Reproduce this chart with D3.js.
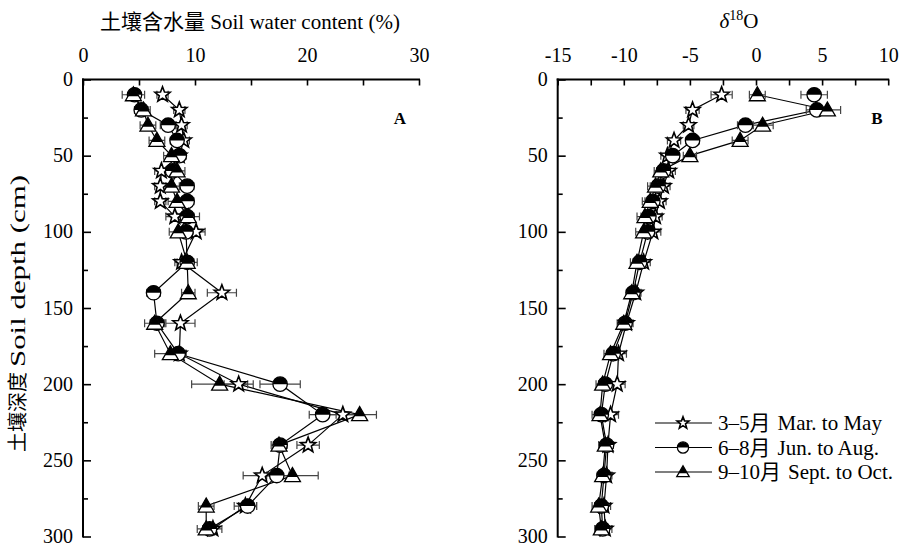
<!DOCTYPE html>
<html><head><meta charset="utf-8">
<script src="https://cdn.jsdelivr.net/npm/d3@7/dist/d3.min.js"></script>
<style>
body{margin:0;background:#fff;}
text{font-family:"Liberation Serif","Times New Roman","Noto Sans CJK SC",serif;fill:#000;}
</style></head>
<body><svg id="c" width="903" height="545"></svg>
<script>
// ---------- data ----------
const depths = [10,20,30,40,50,60,70,80,90,100,120,140,160,180,200,220,240,260,280,295];
const seriesCN = ["3\u20135\u6708","6\u20138\u6708","9\u201310\u6708"];
const seriesEN = ["Mar. to May","Jun. to Aug.","Sept. to Oct."];
// soil water content (%)
const swcMarMay = [7.1,8.6,8.8,9.0,8.6,7.0,6.9,6.9,8.2,10.1,8.8,12.4,8.7,8.6,13.9,23.2,20.1,16.0,14.5,11.6];
const swcJunAug = [4.6,5.2,7.6,8.4,8.6,8.0,9.3,9.3,9.3,9.2,9.3,6.3,6.6,8.5,17.6,21.4,17.6,17.3,14.7,11.3];
const swcSepOct = [4.5,5.4,5.8,6.6,7.9,8.4,7.9,8.4,9.4,8.5,9.3,9.4,6.4,7.8,12.2,24.7,17.5,18.7,11.0,11.0];
const swcMarMayErr = [0.5,0.5,0.5,0.5,0.5,0.6,0.5,0.5,0.8,0.8,0.6,1.3,1.3,0.6,1.3,1.5,1.0,1.7,1.0,0.8];
const swcJunAugErr = [0.5,0.6,0.7,0.6,0.6,0.6,0.6,0.6,0.6,0.6,0.6,0.6,0.6,0.6,1.8,1.2,0.6,1.1,0.8,0.6];
const swcSepOctErr = [1.0,0.6,0.7,0.7,0.7,0.7,0.7,0.8,1.0,0.8,0.9,0.6,0.9,1.4,2.5,1.5,0.7,2.3,0.7,0.8];
// delta 18O
const d18MarMay = [-2.6,-4.8,-5.1,-6.2,-6.7,-6.6,-7.0,-7.3,-7.6,-7.8,-8.5,-9.1,-9.8,-10.4,-10.5,-11.0,-11.2,-11.3,-11.5,-11.4];
const d18JunAug = [4.4,4.6,-0.8,-4.8,-6.3,-7.0,-7.4,-7.8,-8.1,-8.2,-8.8,-9.3,-9.9,-10.8,-11.4,-11.7,-11.3,-11.5,-11.7,-11.6];
const d18SepOct = [0.1,5.4,0.5,-1.2,-5.0,-7.2,-7.6,-8.0,-8.4,-8.5,-9.0,-9.4,-10.0,-11.0,-11.6,-11.8,-11.4,-11.6,-11.9,-11.7];
const d18MarMayErr = [0.8,0.5,0.4,0.5,0.5,0.5,0.5,0.5,0.5,0.6,0.5,0.4,0.5,0.6,0.6,0.6,0.4,0.4,0.5,0.5];
const d18JunAugErr = [1.0,0.8,0.6,0.5,0.5,0.5,0.6,0.6,0.6,0.5,0.5,0.4,0.5,0.5,0.5,0.5,0.4,0.4,0.5,0.5];
const d18SepOctErr = [0.6,1.0,0.8,0.6,0.5,0.5,0.6,0.6,0.6,0.6,0.5,0.4,0.5,0.5,0.5,0.6,0.5,0.4,0.5,0.5];
const swcTicks = [0,5,10,15,20,25,30];
const d18Ticks = [-15,-12.5,-10,-7.5,-5,-2.5,0,2.5,5,7.5,10];
const depthTicks = [0,25,50,75,100,125,150,175,200,225,250,275,300];

// ---------- drawing ----------
const svg = d3.select("#c");
const y = d3.scaleLinear().domain([0,300]).range([79.5,536.5]);
const xA = d3.scaleLinear().domain([0,30]).range([83,419]);
const xB = d3.scaleLinear().domain([-15,10]).range([557.7,888.2]);

function drawMarker(g, type, cx, cy, s){
  if(type===0){
    const R=8*s, r=R*0.42;
    let pts=[];
    for(let i=0;i<10;i++){const a=-Math.PI/2+i*Math.PI/5;const rr=i%2?r:R;pts.push([cx+rr*Math.cos(a),cy+rr*Math.sin(a)]);}
    g.append("path").attr("d","M"+pts.map(p=>p.join(",")).join("L")+"Z")
      .attr("fill","#fff").attr("stroke","#000").attr("stroke-width",1.6).attr("stroke-linejoin","miter");
  } else if(type===1){
    const r=7.2*s;
    g.append("circle").attr("cx",cx).attr("cy",cy).attr("r",r).attr("fill","#fff").attr("stroke","#000").attr("stroke-width",1.3);
    g.append("path").attr("d",`M${cx-r},${cy}A${r},${r} 0 0 1 ${cx+r},${cy}Z`).attr("fill","#000");
  } else {
    const w=16*s, h=14*s, top=cy-8*s, base=top+h;
    g.append("path").attr("d",`M${cx},${top}L${cx+w/2},${base}L${cx-w/2},${base}Z`)
      .attr("fill","#fff").attr("stroke","#000").attr("stroke-width",1.3).attr("stroke-linejoin","miter");
    const f=0.68, hb=h*f, wb=w*f;
    g.append("path").attr("d",`M${cx},${top}L${cx+wb/2},${top+hb}L${cx-wb/2},${top+hb}Z`).attr("fill","#000");
  }
}

function panel(x, ticks, labelStep, vals, errs){
  const g = svg.append("g");
  const ax = g.append("g").attr("transform",`translate(0,${y(0)})`)
    .call(d3.axisTop(x).tickValues(ticks).tickSizeInner(-6).tickSizeOuter(0).tickPadding(18)
      .tickFormat(d => (Math.abs(d/labelStep - Math.round(d/labelStep))<1e-9) ? String(d) : ""));
  ax.select(".domain").attr("stroke-width",2).attr("d",`M${x.range()[0]-1},0H${x.range()[1]+1}`);
  ax.selectAll(".tick line").attr("stroke-width",1.6);
  ax.selectAll("text").attr("font-size",20).attr("font-family","Liberation Serif");
  const ay = g.append("g").attr("transform",`translate(${x.range()[0]},0)`)
    .call(d3.axisLeft(y).tickValues(depthTicks).tickSizeOuter(0).tickSizeInner(-8).tickPadding(10)
      .tickFormat(d => d%50===0 ? d : ""));
  ay.select(".domain").attr("stroke-width",2).attr("d",`M0,${y(0)-1}V${y(300)+1}`);
  ay.selectAll(".tick line").attr("stroke-width",1.6).attr("x2", d => d%50===0 ? 8 : 5);
  ay.selectAll("text").attr("font-size",20).attr("font-family","Liberation Serif").attr("dy","0.3em");
  const line = d3.line().x(d=>x(d[0])).y(d=>y(d[1]));
  vals.forEach(v=>{
    g.append("path").datum(v.map((val,i)=>[val,depths[i]])).attr("d",line)
      .attr("fill","none").attr("stroke","#000").attr("stroke-width",1.2);
  });
  vals.forEach((v,k)=>{
    v.forEach((val,i)=>{
      const e=errs[k][i], yy=y(depths[i]), x1=x(val-e), x2=x(val+e);
      g.append("path").attr("d",`M${x1},${yy}H${x2}M${x1},${yy-4}V${yy+4}M${x2},${yy-4}V${yy+4}`)
        .attr("stroke","#444").attr("stroke-width",1.2).attr("fill","none");
    });
  });
  vals.forEach((v,k)=>{
    v.forEach((val,i)=>drawMarker(g,k,x(val),y(depths[i]),1));
  });
  return g;
}

panel(xA, swcTicks, 10, [swcMarMay,swcJunAug,swcSepOct],[swcMarMayErr,swcJunAugErr,swcSepOctErr]);
panel(xB, d18Ticks, 5, [d18MarMay,d18JunAug,d18SepOct],[d18MarMayErr,d18JunAugErr,d18SepOctErr]);

// titles
svg.append("text").attr("x",250).attr("y",29).attr("text-anchor","middle").attr("font-size",21)
  .text("\u571f\u58e4\u542b\u6c34\u91cf Soil water content (%)");
const t2 = svg.append("text").attr("x",739).attr("y",28).attr("text-anchor","middle").attr("font-size",21);
t2.append("tspan").attr("font-style","italic").text("\u03b4");
t2.append("tspan").attr("font-size",14).attr("dy",-8).text("18");
t2.append("tspan").attr("dy",8).text("O");
const yt = svg.append("text").attr("transform","translate(25,452) rotate(-90)").attr("text-anchor","start").attr("font-size",20);
yt.append("tspan").text("\u571f\u58e4\u6df1\u5ea6");
yt.append("tspan").attr("dx",5).attr("font-size",20).attr("textLength",192).attr("lengthAdjust","spacingAndGlyphs").text("Soil depth (cm)");
svg.append("text").attr("x",400).attr("y",124).attr("text-anchor","middle").attr("font-size",17).attr("font-weight","bold").text("A");
svg.append("text").attr("x",877).attr("y",124).attr("text-anchor","middle").attr("font-size",17).attr("font-weight","bold").text("B");

// legend
const lg = svg.append("g");
seriesCN.forEach((n,k)=>{
  const yy = 423 + k*24.5;
  lg.append("path").attr("d",`M655,${yy}H712`).attr("stroke","#000").attr("stroke-width",1.2);
  drawMarker(lg,k,683,yy,0.78);
  const t = lg.append("text").attr("x",718).attr("y",yy+7).attr("font-size",21);
  t.append("tspan").text(n);
  t.append("tspan").attr("dx",7).text(seriesEN[k]);
});
</script></body></html>
